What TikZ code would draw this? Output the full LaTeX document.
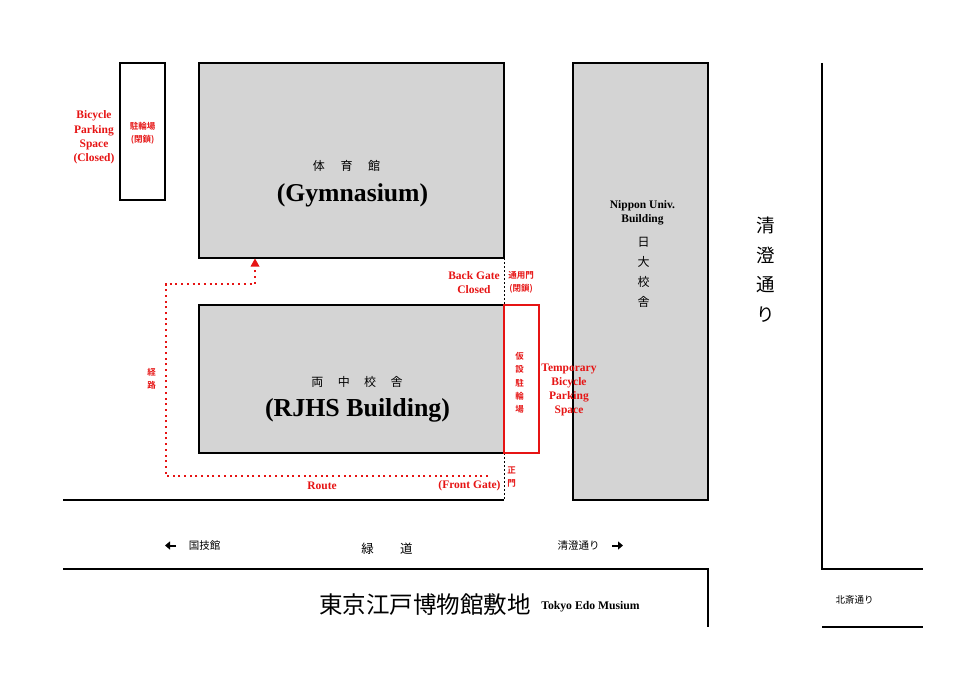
\documentclass[tikz,border=0pt]{standalone}
\usepackage{fontspec}
\setmainfont{Liberation Serif}
\newfontfamily\cjk{Noto Sans CJK JP}
\newfontfamily\cjkb{Noto Sans CJK JP Bold}
\usetikzlibrary{arrows.meta}
\definecolor{bldg}{RGB}{212,212,212}
\definecolor{redt}{RGB}{230,20,20}
\tikzset{
  x=1pt,y=-1pt,
  building/.style={draw=black,line width=1.5pt,fill=bldg},
  road/.style={draw=black,line width=1.5pt},
  gate/.style={draw=black,line width=1.3pt,dash pattern=on 2pt off 2pt},
  route/.style={draw=redt,line width=2pt,dash pattern=on 2pt off 3.7pt},
  en/.style={inner sep=0pt,align=center,font=\bfseries\fontsize{11.5}{14.3}\selectfont,text=redt},
  jr/.style={inner sep=0pt,align=center,font=\cjkb\fontsize{8.5}{13}\selectfont,text=redt},
  jb/.style={inner sep=0pt,align=center,font=\cjk,text=black},
}
\begin{document}
\begin{tikzpicture}
\useasboundingbox (0,0) rectangle (980,693);
% roads
\draw[road] (63,500) -- (504,500);
\draw[road] (63,569) -- (708,569) -- (708,627);
\draw[road] (822,63) -- (822,569) -- (923,569);
\draw[road] (822,627) -- (923,627);
% buildings
\draw[road,fill=white] (120,63) rectangle (165,200);
\node[building,minimum width=305pt,minimum height=195pt,inner sep=0pt,outer sep=0pt] (gym) at (351.5,160.5) {};
\node[building,minimum width=305pt,minimum height=148pt,inner sep=0pt,outer sep=0pt] (rjhs) at (351.5,379) {};
\node[building,minimum width=135pt,minimum height=437pt,inner sep=0pt,outer sep=0pt] (nippon) at (640.5,281.5) {};
% gate dots
\coordinate (g1) at (504.5,258);
\coordinate (g2) at (504.5,305);
\coordinate (g3) at (504.5,453);
\coordinate (g4) at (504.5,499);
\draw[gate] (g1) -- (g2);
\draw[gate] (g3) -- (g4);
% temporary parking
\draw[draw=redt,line width=1.5pt] (504,305) rectangle (539,453);
% route
\coordinate (r0) at (488,476);
\coordinate (r1) at (165.5,476);
\coordinate (r2) at (165.5,284);
\coordinate (r3) at (255,284);
\coordinate (r4) at (255,268);
\draw[route] (r0) -- (r1) -- (r2) -- (r3) -- (r4);
\fill[redt] (255,258.5) -- (259.5,266.5) -- (250.5,266.5) -- cycle;
% texts
\node[en] (t1) at (94,137.5) {Bicycle\\Parking\\Space\\(Closed)};
\node[jr] (t2) at (142.5,133.5) {駐輪場\\(閉鎖)};
\node[jb,font=\cjk\fontsize{12}{14}\selectfont] (t3) at (346.5,166) {体\hspace{1.3em}育\hspace{1.3em}館};
\node[inner sep=0pt,font=\bfseries\fontsize{25.7}{28}\selectfont] (t4) at (352.5,195) {(Gymnasium)};
\node[jb,font=\cjk\fontsize{12}{14}\selectfont] (t5) at (357,382) {両\hspace{1.2em}中\hspace{1.2em}校\hspace{1.2em}舎};
\node[inner sep=0pt,font=\bfseries\fontsize{25.9}{28}\selectfont] (t6) at (357.5,410) {(RJHS Building)};
\node[inner sep=0pt,align=center,font=\bfseries\fontsize{11.5}{14.3}\selectfont] (t7) at (642.5,212.5) {Nippon Univ.\\Building};
\node[jb,font=\cjk\fontsize{12}{20}\selectfont] (t8) at (643.5,272) {日\\大\\校\\舎};
\node[jb,font=\cjk\fontsize{18.5}{29.5}\selectfont] (t9) at (765.5,269.5) {清\\澄\\通\\り};
\node[en] (t10) at (474,282.5) {Back Gate\\Closed};
\node[jr] (t11) at (521,282) {通用門\\(閉鎖)};
\node[jr,font=\cjkb\fontsize{8.5}{13.3}\selectfont] (t12) at (519.5,383) {仮\\設\\駐\\輪\\場};
\node[en] (t13) at (569,390) {Temporary\\Bicycle\\Parking\\Space};
\node[jr] (t14) at (151.5,378.5) {経\\路};
\node[en] (t15) at (322,486) {Route};
\node[en] (t16) at (469.5,486) {(Front Gate)};
\node[jr] (t17) at (511.5,477) {正\\門};
\node[jb,font=\cjk\fontsize{10.5}{12}\selectfont] (t18) at (204.5,545.5) {国技館};
\node[jb,font=\cjk\fontsize{12.5}{14}\selectfont] (t19) at (387,548.5) {緑\hspace{2.1em}道};
\node[jb,font=\cjk\fontsize{10.5}{12}\selectfont] (t20) at (578.5,545.5) {清澄通り};
\node[jb,font=\cjk\fontsize{23.5}{26}\selectfont] (t21) at (425,605) {東京江戸博物館敷地};
\node[inner sep=0pt,font=\bfseries\fontsize{11.7}{13}\selectfont] (t22) at (590.5,606.5) {Tokyo Edo Musium};
\node[jb,font=\cjk\fontsize{9.5}{12}\selectfont] (t23) at (854.5,600) {北斎通り};
% arrows
\draw[black,line width=2pt,-{Triangle[width=8pt,length=5pt]}] (176,545.5) -- (165,545.5);
\draw[black,line width=2pt,-{Triangle[width=8pt,length=5pt]}] (612,545.5) -- (623,545.5);
\end{tikzpicture}
\end{document}
